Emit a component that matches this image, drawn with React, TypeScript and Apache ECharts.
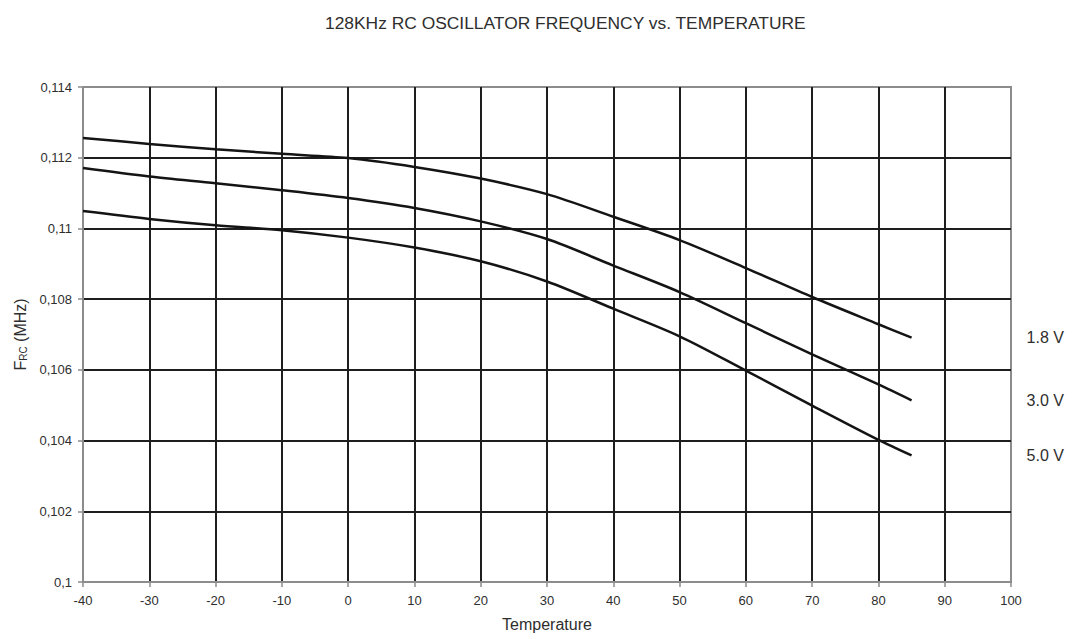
import React, { useEffect, useRef } from "react";
import * as echarts from "echarts";

const temperatures = [-40, -30, -20, -10, 0, 10, 20, 30, 40, 50, 60, 70, 80, 85];
const v18 = [0.11256, 0.11239, 0.11224, 0.11211, 0.11199, 0.11174, 0.11141, 0.11097, 0.11033, 0.10967, 0.10888, 0.10806, 0.10729, 0.10691];
const v30 = [0.11171, 0.11147, 0.11128, 0.11108, 0.11086, 0.11058, 0.1102, 0.1097, 0.10895, 0.1082, 0.10732, 0.10644, 0.10559, 0.10514];
const v50 = [0.11049, 0.11027, 0.11009, 0.10995, 0.10974, 0.10946, 0.10907, 0.1085, 0.10773, 0.10695, 0.10598, 0.10499, 0.10402, 0.10358];
const seriesNames = ["1.8 V", "3.0 V", "5.0 V"];
const seriesValues = [v18, v30, v50];

const FONT = "'Liberation Sans', Arial, sans-serif";
const TEXT = "#2e2e2e";
const GRAY = "#8c8c8c";
const DARK = "#1e1e1e";

export default function App() {
  const ref = useRef<HTMLDivElement>(null);
  useEffect(() => {
    if (!ref.current) return;
    const chart = echarts.init(ref.current, null, { renderer: "svg" });
    chart.setOption({
      animation: false,
      backgroundColor: "#ffffff",
      textStyle: { fontFamily: FONT },
      title: {
        text: "128KHz RC OSCILLATOR FREQUENCY vs. TEMPERATURE",
        left: 320,
        top: 9,
        textStyle: { fontSize: 17.4, fontWeight: "normal", color: TEXT, fontFamily: FONT },
      },
      grid: {
        left: 83,
        right: 68,
        top: 87,
        bottom: 57,
        show: true,
        borderColor: GRAY,
        borderWidth: 2,
        containLabel: false,
      },
      xAxis: {
        type: "value",
        min: -40,
        max: 100,
        interval: 10,
        name: "Temperature",
        nameLocation: "middle",
        nameGap: 34,
        nameTextStyle: { fontSize: 16, color: TEXT, fontFamily: FONT },
        axisLine: { show: true, onZero: false, lineStyle: { color: GRAY, width: 2 } },
        axisTick: { show: true, length: 5, lineStyle: { color: GRAY, width: 1.5 } },
        axisLabel: { fontSize: 13, color: TEXT, margin: 12, fontFamily: FONT },
        splitLine: {
          show: true,
          showMinLine: false,
          showMaxLine: false,
          lineStyle: { color: DARK, width: 2 },
        },
      },
      yAxis: {
        type: "value",
        min: 0.1,
        max: 0.114,
        interval: 0.002,
        name: "F{sub|RC} (MHz)",
        nameLocation: "middle",
        nameGap: 52,
        nameTextStyle: {
          fontSize: 16,
          color: TEXT,
          fontFamily: FONT,
          rich: {
            sub: { fontSize: 10, color: TEXT, fontFamily: FONT, verticalAlign: "bottom", lineHeight: 12 },
          },
        },
        axisLine: { show: true, onZero: false, lineStyle: { color: GRAY, width: 2 } },
        axisTick: { show: true, length: 5, lineStyle: { color: GRAY, width: 1.5 } },
        axisLabel: {
          fontSize: 13,
          color: TEXT,
          margin: 11,
          fontFamily: FONT,
          formatter: (v: number) => String(Number(v.toFixed(3))).replace(".", ","),
        },
        splitLine: {
          show: true,
          showMinLine: false,
          showMaxLine: false,
          lineStyle: { color: DARK, width: 2 },
        },
      },
      series: seriesNames.map((name, i) => ({
        name,
        type: "line",
        smooth: 0.3,
        symbol: "none",
        data: temperatures.map((t, j) => [t, seriesValues[i][j]]),
        lineStyle: { color: "#141414", width: 2.5 },
        z: 5,
        endLabel: {
          show: true,
          formatter: name,
          offset: [107, 0],
          fontSize: 16,
          color: TEXT,
          fontFamily: FONT,
        },
      })),
    });
    return () => chart.dispose();
  }, []);
  return (
    <div
      ref={ref}
      style={{ position: "absolute", left: 0, top: 0, width: 1079, height: 639 }}
    />
  );
}
